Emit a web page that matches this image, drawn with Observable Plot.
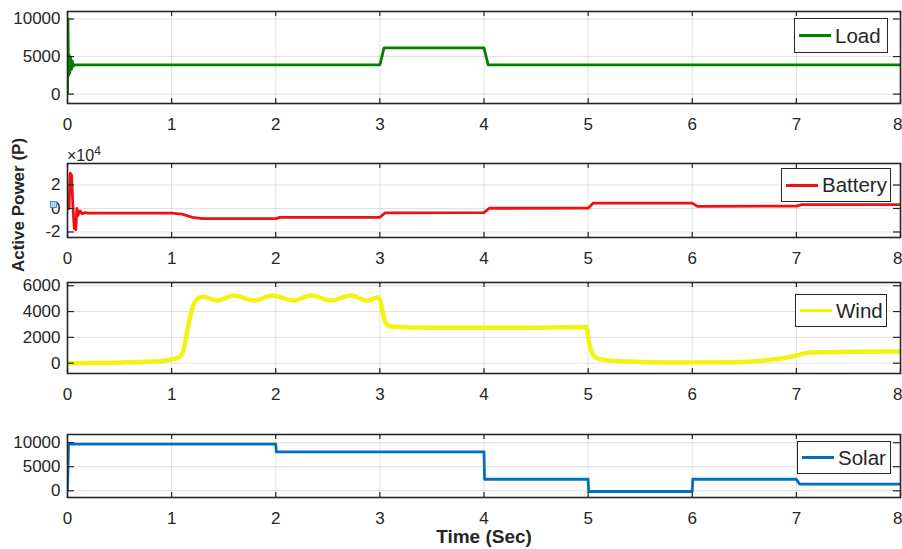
<!DOCTYPE html>
<html><head><meta charset="utf-8">
<script src="https://cdn.jsdelivr.net/npm/d3@7"></script>
<script src="https://cdn.jsdelivr.net/npm/@observablehq/plot@0.6"></script>
<style>
body{margin:0;background:#fff;}
#chart{position:relative;width:902px;height:549px;overflow:hidden;font-family:"Liberation Sans",Arial,Helvetica,sans-serif;color:#262626;background:#fff;}
.panel{position:absolute;left:0;}
.legend{position:absolute;background:#fff;border:1px solid #262626;box-sizing:border-box;font-size:20.5px;line-height:1;}
.legend .sw{position:absolute;left:4px;width:32px;height:3px;}
.legend .tx{position:absolute;left:40px;}
.ylab{position:absolute;left:19px;top:205px;transform:translate(-50%,-50%) rotate(-90deg);font-weight:bold;font-size:17px;white-space:nowrap;}
.xlab{position:absolute;left:484px;top:537px;transform:translate(-50%,-50%);font-weight:bold;font-size:19px;white-space:nowrap;}
.exp{position:absolute;left:67px;top:144px;font-size:16px;white-space:nowrap;}
.exp sup{font-size:12px;vertical-align:6px;}
.marker{position:absolute;left:50px;top:201px;width:7px;height:7px;background:#a9d5f2;border:1px solid #4a90c8;box-sizing:border-box;}
</style></head><body><div id="chart"></div><script>
// ---------- data ----------
const timeTicks = [0, 1, 2, 3, 4, 5, 6, 7, 8];
const seriesNames = ["Load", "Battery", "Wind", "Solar"];

const loadT = [0, 0.004, 0.01, 0.016, 0.022, 0.03, 0.038, 0.046, 0.055, 0.07, 3.0, 3.04, 4.0, 4.04, 8];
const loadP = [0, 10000, 2500, 5200, 2800, 4800, 3300, 4400, 3700, 3900, 3900, 6150, 6150, 3900, 3900];

const batteryT = [0, 0.015, 0.025, 0.04, 0.05, 0.065, 0.08, 0.09, 0.1, 0.12, 0.14, 0.17, 0.2, 1.0, 1.1, 1.2, 1.3, 2.0, 2.04, 3.0, 3.05, 4.0, 4.05, 5.0, 5.05, 6.0, 6.05, 7.0, 7.05, 8];
const batteryP = [0, 0, 30000, 28000, 5000, -17000, -18000, 0, -6000, -2000, -4500, -3500, -4000, -4000, -4800, -7500, -8600, -8600, -7500, -7500, -3700, -3500, 200, 300, 4600, 4600, 1800, 2000, 3300, 3300];

const windT = [0, 0.5, 0.9, 1.0, 1.05, 1.1, 1.15, 1.2, 1.25, 1.3, 1.44, 1.6, 1.79, 1.97, 2.17, 2.34, 2.53, 2.72, 2.88, 2.98, 3.0, 3.05, 3.1, 3.5, 4.0, 4.5, 4.98, 5.02, 5.08, 5.2, 5.5, 6.0, 6.4, 6.7, 6.9, 7.0, 7.15, 7.5, 8];
const windP = [0, 50, 150, 300, 400, 700, 2500, 4300, 5000, 5150, 4850, 5250, 4850, 5250, 4850, 5250, 4850, 5250, 4850, 5100, 4900, 3200, 2850, 2750, 2750, 2750, 2800, 1200, 400, 200, 100, 50, 80, 220, 420, 600, 840, 880, 900];

const solarT = [0, 0.01, 0.03, 2.0, 2.005, 4.0, 4.005, 5.0, 5.005, 6.0, 6.005, 7.0, 7.03, 8];
const solarP = [0, 9900, 9700, 9700, 8100, 8100, 2400, 2400, -150, -150, 2400, 2400, 1400, 1400];

const loadTicks = [0, 5000, 10000];
const batteryTicks = [-20000, 0, 20000];
const windTicks = [0, 2000, 4000, 6000];
const solarTicks = [0, 5000, 10000];

// ---------- layout / style ----------
const panels = [
  {name: seriesNames[0], t: loadT, p: loadP, ticks: loadTicks, domain: [-1250, 11000], top: 11, h: 92, color: "#008000", sw: 2.8, curve: "linear", fmt: d => String(d), legend: {l: 794, t: 18, w: 94, h: 35}},
  {name: seriesNames[1], t: batteryT, p: batteryP, ticks: batteryTicks, domain: [-24700, 38300], top: 163, h: 74, color: "#ee1111", sw: 2.8, curve: "linear", fmt: d => String(d / 1e4), legend: {l: 781, t: 168, w: 110, h: 34}},
  {name: seriesNames[2], t: windT, p: windP, ticks: windTicks, domain: [-800, 6250], top: 282, h: 91, color: "#f3f312", sw: 4.5, curve: "monotone-x", fmt: d => String(d), legend: {l: 795, t: 294, w: 92, h: 33}},
  {name: seriesNames[3], t: solarT, p: solarP, ticks: solarTicks, domain: [-1400, 11700], top: 434, h: 63, color: "#0072bd", sw: 2.8, curve: "linear", fmt: d => String(d), legend: {l: 797, t: 441, w: 94, h: 33}}
];

const chart = document.getElementById("chart");
const W = 902, mL = 67, mR = 2, mT = 10, mB = 30;
const innerW = W - mL - mR;
const lastTick = timeTicks[timeTicks.length - 1];

for (const pn of panels) {
  const data = pn.t.map((t, i) => ({t, p: pn.p[i]}));
  const svg = Plot.plot({
    width: W,
    height: pn.h + mT + mB,
    marginLeft: mL, marginRight: mR, marginTop: mT, marginBottom: mB,
    style: {fontSize: "17px", fontFamily: "Liberation Sans, Arial, sans-serif", color: "#262626", background: "transparent", overflow: "visible"},
    x: {domain: [0, 8]},
    y: {domain: pn.domain},
    marks: [
      Plot.gridX(timeTicks, {stroke: "#000", strokeOpacity: 0.12}),
      Plot.gridY(pn.ticks, {stroke: "#000", strokeOpacity: 0.12}),
      Plot.line(data, {x: "t", y: "p", stroke: pn.color, strokeWidth: pn.sw, curve: pn.curve, clip: true}),
      Plot.frame({stroke: "#262626", strokeWidth: 1.6}),
      Plot.tickX(timeTicks, {x: d => d, stroke: "#262626", strokeWidth: 1.2, insetBottom: pn.h - 5}),
      Plot.tickX(timeTicks, {x: d => d, stroke: "#262626", strokeWidth: 1.2, insetTop: pn.h - 5}),
      Plot.tickY(pn.ticks, {y: d => d, stroke: "#262626", strokeWidth: 1.2, insetRight: innerW - 7}),
      Plot.tickY(pn.ticks, {y: d => d, stroke: "#262626", strokeWidth: 1.2, insetLeft: innerW - 7}),
      Plot.axisX(timeTicks.filter(d => d !== lastTick), {tickSize: 0, tickPadding: 14, label: null, tickFormat: d => String(d), fill: "#262626"}),
      Plot.axisX([lastTick], {tickSize: 0, tickPadding: 14, label: null, tickFormat: d => String(d), fill: "#262626", textAnchor: "end", dx: 2}),
      Plot.axisY(pn.ticks, {tickSize: 0, tickPadding: 7, label: null, tickFormat: pn.fmt, fill: "#262626"})
    ]
  });
  svg.classList.add("panel");
  svg.style.top = (pn.top - mT) + "px";
  chart.appendChild(svg);

  const lg = document.createElement("div");
  lg.className = "legend";
  Object.assign(lg.style, {left: pn.legend.l + "px", top: pn.legend.t + "px", width: pn.legend.w + "px", height: pn.legend.h + "px"});
  const sw = document.createElement("div");
  sw.className = "sw";
  sw.style.background = pn.color;
  sw.style.top = (pn.legend.h / 2 - 2.5) + "px";
  const tx = document.createElement("div");
  tx.className = "tx";
  tx.textContent = pn.name;
  tx.style.top = (pn.legend.h / 2 - 11) + "px";
  lg.appendChild(sw); lg.appendChild(tx);
  chart.appendChild(lg);
}

const yl = document.createElement("div"); yl.className = "ylab"; yl.textContent = "Active Power (P)"; chart.appendChild(yl);
const xl = document.createElement("div"); xl.className = "xlab"; xl.textContent = "Time (Sec)"; chart.appendChild(xl);
const ex = document.createElement("div"); ex.className = "exp"; ex.innerHTML = "×10<sup>4</sup>"; chart.appendChild(ex);
const mk = document.createElement("div"); mk.className = "marker"; chart.appendChild(mk);
</script></body></html>
